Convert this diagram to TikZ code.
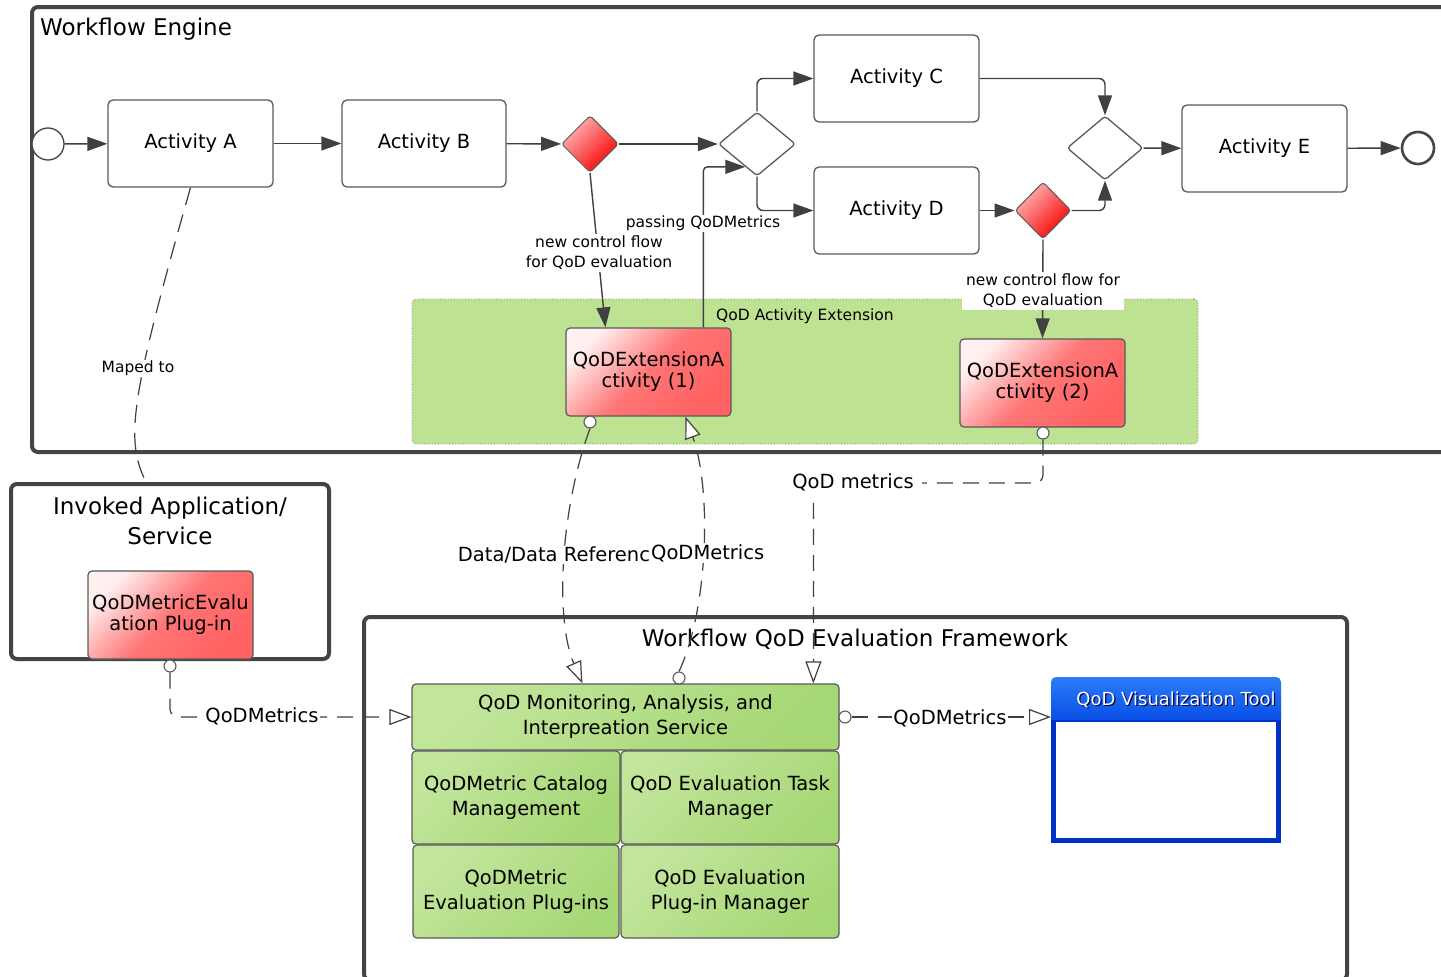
\documentclass[tikz,border=0pt]{standalone}
\usepackage{fontspec}
\setmainfont{DejaVu Sans}
\usetikzlibrary{arrows.meta,shapes.geometric,calc}

\definecolor{framegray}{HTML}{444444}
\definecolor{boxgray}{HTML}{5A5A5A}
\definecolor{flowgray}{HTML}{404040}
\definecolor{qred}{HTML}{FF6262}
\definecolor{gwred}{HTML}{F80000}
\definecolor{extgreen}{HTML}{BDE291}
\definecolor{glight}{HTML}{C2E59C}
\definecolor{gdark}{HTML}{A6D775}
\definecolor{vizblue}{HTML}{0A4FE6}
\definecolor{vizlight}{HTML}{2A7CF8}
\definecolor{vizdark}{HTML}{0030C8}

\newcommand\fsz[2]{\fontsize{#1}{#2}\selectfont}

\tikzset{
  frame/.style={draw=framegray, line width=4pt, rounded corners=6pt, inner sep=0pt},
  activity/.style={draw=boxgray, line width=1.3pt, rounded corners=5pt, fill=white,
    minimum width=165pt, minimum height=87pt, inner sep=0pt, align=center, font=\fsz{19.5}{23}},
  gwplain/.style={diamond, draw=boxgray, line width=1.3pt, fill=white, rounded corners=3pt,
    minimum width=77pt, minimum height=64pt, inner sep=0pt},
  gwred/.style={diamond, draw=boxgray, line width=1pt, rounded corners=3pt,
    left color=qred!45!white, right color=gwred, shading angle=45,
    minimum width=57pt, minimum height=57pt, inner sep=0pt},
  event/.style={circle, draw=framegray, fill=white, minimum size=32pt, inner sep=0pt},
  redbox/.style={draw=boxgray, line width=1.2pt, rounded corners=4pt,
    left color=qred!10!white, right color=qred, middle color=qred!88!white, shading angle=45,
    minimum width=165pt, minimum height=88pt, inner sep=0pt, align=center, font=\fsz{19.5}{21}},
  greenbox/.style={draw=boxgray, line width=1.2pt, rounded corners=4pt,
    left color=glight, right color=gdark, shading angle=45,
    inner sep=0pt, align=center, font=\fsz{19.5}{25}},
  region/.style={draw=gray, line width=0.8pt, dotted, fill=extgreen, rounded corners=4pt, inner sep=0pt},
  lolli/.style={circle, draw=boxgray, line width=1.1pt, fill=white, minimum size=12pt, inner sep=0pt},
  flow/.style={draw=flowgray, line width=1.4pt, -{Triangle[length=20pt,width=14pt]}},
  usage/.style={draw=flowgray, line width=1.2pt, dash pattern=on 16pt off 10pt},
  usagearrow/.style={usage, -{Triangle[open,length=22pt,width=16pt,line width=1.2pt,fill=white]}},
  lbl/.style={fill=white, inner sep=2pt, align=center, font=\fsz{15.5}{20}},
  biglbl/.style={fill=white, inner sep=1pt, align=center, font=\fsz{19.5}{23}},
  title/.style={inner sep=0pt, align=center, font=\fsz{23}{30}}
}

\begin{document}
\begin{tikzpicture}[x=1pt,y=-1pt]
\useasboundingbox (0,0) rectangle (1441,977);
\fill[white] (0,0) rectangle (1441,977);

% ---------- Workflow engine ----------
\node[frame, minimum width=1440pt, minimum height=445pt] (engine) at (752,229.5) {};
\node[title, anchor=west] (enginetitle) at (40,29) {Workflow Engine};

\node[region, minimum width=786pt, minimum height=145pt] (ext) at (805,371.5) {};
\node[inner sep=0pt, font=\fsz{15.5}{20}] (exttitle) at (805,316) {QoD Activity Extension};

\node[event, line width=1.3pt] (start) at (48,144) {};
\node[activity] (A) at (190.5,143.5) {Activity A};
\node[activity, minimum width=164pt] (B) at (424,143.5) {Activity B};
\node[gwred] (rg1) at (590,144) {};
\node[gwplain] (g2) at (757,144) {};
\node[activity] (C) at (896.5,78.5) {Activity C};
\node[activity] (D) at (896.5,210.5) {Activity D};
\node[gwred, minimum width=56pt] (rg2) at (1043,210.5) {};
\node[gwplain, minimum width=76pt] (g3) at (1105,148) {};
\node[activity] (E) at (1264.5,148.5) {Activity E};
\node[event, line width=2.6pt] (end) at (1418,148) {};

\node[redbox] (x1) at (648.5,372) {QoDExtensionA\\ctivity (1)};
\node[redbox] (x2) at (1042.5,383) {QoDExtensionA\\ctivity (2)};
\node[lolli] (l1) at (590,422) {};
\node[lolli] (l2) at (1043,433) {};

\draw[flow] (start) -- (A);
\draw[flow] (A) -- (B);
\draw[flow] (B) -- (rg1);
\draw[flow] (rg1) -- (g2);
\draw[flow, rounded corners=6pt] (g2.north) |- (C.west);
\draw[flow, rounded corners=6pt] (g2.south) |- (D.west);
\draw[flow, rounded corners=6pt] (C.east) -| (g3.north);
\draw[flow] (D) -- (rg2);
\draw[flow, rounded corners=6pt] (rg2.east) -| (g3.south);
\draw[flow] (g3) -- (E);
\draw[flow] (E) -- (end);

\coordinate (x1in) at ([xshift=40pt]x1.north west);
\coordinate (x1out) at ([xshift=138pt]x1.north west);
\coordinate (g2in) at ($(g2.west)!0.7!(g2.south)$);
\draw[flow] (rg1.south) -- (x1in);
\draw[flow, rounded corners=4pt] (x1out) |- (g2in);
\draw[flow] (rg2.south) -- (x2.north);

\node[lbl] (lblnew1) at (599,253) {new control flow\\for QoD evaluation};
\node[lbl, inner sep=1pt] (lblpass) at (703,223) {passing QoDMetrics};
\node[lbl, inner xsep=4pt, inner ysep=2pt] (lblnew2) at (1043,291) {new control flow for\\QoD evaluation};

% ---------- Invoked application ----------
\node[frame, minimum width=318pt, minimum height=175pt] (inv) at (170,571.5) {};
\node[title] (invtitle) at (170,521) {Invoked Application/\\Service};
\node[redbox, minimum height=88pt] (plug) at (170.5,615) {QoDMetricEvalu\\ation Plug-in};
\node[lolli] (l3) at (170,666) {};

\coordinate (invin) at ([xshift=137pt]inv.north west);
\draw[usage, dash pattern=on 18pt off 10pt] (A.south) .. controls (130,400) and (125,440) .. (invin);
\node[lbl, inner sep=1pt] (lblmap) at (138,368) {Maped to};

% ---------- Evaluation framework ----------
\node[frame, minimum width=983pt, minimum height=363pt] (fw) at (855.5,798.5) {};
\node[title] (fwtitle) at (855,639) {Workflow QoD Evaluation Framework};

\node[greenbox, minimum width=427pt, minimum height=66pt] (mon) at (625.5,717) {QoD Monitoring, Analysis, and\\Interpreation Service};
\node[greenbox, minimum width=208pt, minimum height=93pt] (cat) at (516,797.5) {QoDMetric Catalog\\Management};
\node[greenbox, minimum width=218pt, minimum height=93pt] (task) at (730,797.5) {QoD Evaluation Task\\Manager};
\node[greenbox, minimum width=206pt, minimum height=93pt] (plugins) at (516,891.5) {QoDMetric\\Evaluation Plug-ins};
\node[greenbox, minimum width=218pt, minimum height=93pt] (pmgr) at (730,891.5) {QoD Evaluation\\Plug-in Manager};
\node[lolli] (l4) at (679,678) {};
\node[lolli] (l5) at (845,717) {};

% visualization tool window
\node[draw=vizdark, line width=5pt, fill=white, minimum width=225pt, minimum height=121pt, inner sep=0pt] (viz) at (1166,779.5) {};
\shade[top color=vizlight, bottom color=vizblue] (1051,720) [rounded corners=5pt] -- (1051,677) -- (1281,677) [sharp corners] -- (1281,720) -- cycle;
\node[text=black!75!blue, inner sep=0pt, font=\fsz{18}{20}] (vizshadow) at (1177.2,701.2) {QoD Visualization Tool};
\node[text=white, inner sep=0pt, font=\fsz{18}{20}] (viztitle) at (1176,700) {QoD Visualization Tool};
\coordinate (vizin) at (viz.north west |- l5);

% ---------- usage connectors ----------
\coordinate (monin1) at ([xshift=171pt]mon.north west);
\coordinate (monin2) at ([xshift=402pt]mon.north west);
\coordinate (x1back) at ([xshift=120pt]x1.south west);

\draw[usagearrow] (l1.south) .. controls (560,510) and (555,620) .. (monin1);
\draw[usagearrow] (l4.north) .. controls (708,610) and (712,490) .. (x1back);
\draw[usagearrow, rounded corners=8pt] (l2.south) |- (monin2 |- 0,483) -- (monin2);
\draw[usagearrow, rounded corners=8pt] (l3.south) |- (mon.west);
\draw[usagearrow] (l5.east) -- (vizin);

\node[biglbl] (lbldata) at (554,555) {Data/Data Referenc};
\node[biglbl, anchor=west] (lblqm1) at (650,553) {QoDMetrics};
\node[biglbl, inner xsep=8pt, inner ysep=3pt] (lblqm2) at (853,482) {QoD metrics};
\node[biglbl] (lblqm3) at (262,716) {QoDMetrics};
\node[biglbl] (lblqm4) at (950,718) {QoDMetrics};

\end{tikzpicture}
\end{document}
